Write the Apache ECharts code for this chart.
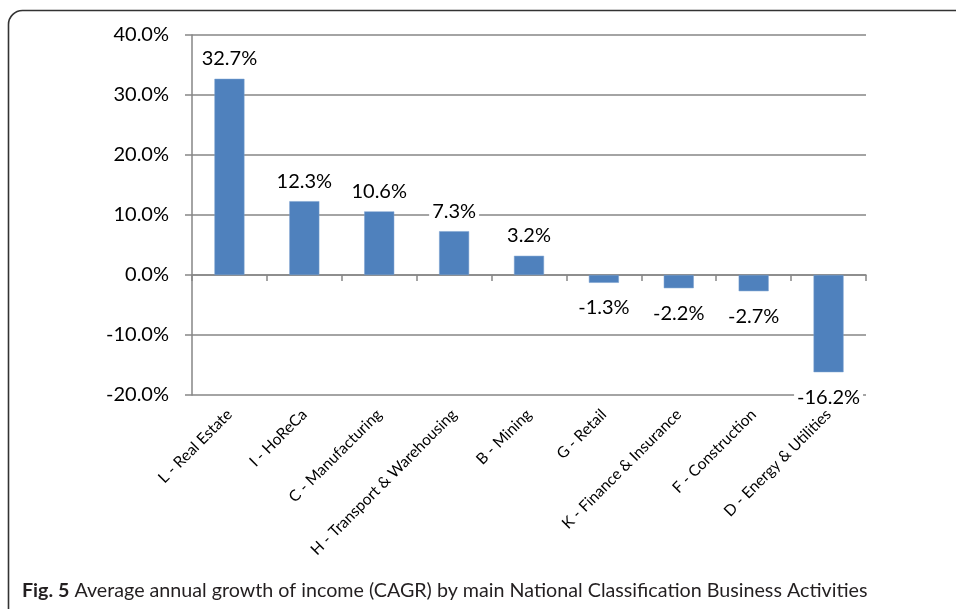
<!DOCTYPE html>
<html><head><meta charset="utf-8">
<script src="https://cdn.jsdelivr.net/npm/echarts@6/dist/echarts.min.js"></script>
<style>html,body{margin:0;padding:0;background:#fff}#c{width:956px;height:609px}</style>
</head><body><div id="c"></div>
<script>
const categories = ["L - Real Estate","I - HoReCa","C - Manufacturing","H - Transport & Warehousing","B - Mining","G - Retail","K - Finance & Insurance","F - Construction","D - Energy & Utilities"];
const values = [32.7, 12.3, 10.6, 7.3, 3.2, -1.3, -2.2, -2.7, -16.2];
const yTicks = {min: -20, max: 40, interval: 10};
const captionBold = "Fig. 5";
const captionText = " Average annual growth of income (CAGR) by main National Classification Business Activities";

const FONT = "Lato";
const chart = echarts.init(document.getElementById('c'), null, {renderer: 'canvas'});
const labelBase = {
  show: true, fontFamily: FONT, fontSize: 20, color: '#000',
  formatter: p => p.value.toFixed(1) + '%',
  backgroundColor: '#fff', padding: [1, 3]
};
chart.setOption({
  animation: false,
  backgroundColor: '#fff',
  grid: {left: 192, right: 90, top: 35, bottom: 214, containLabel: false},
  xAxis: [{
    type: 'category', data: categories, position: 'bottom',
    axisLine: {show: false, onZero: false}, axisTick: {show: false},
    axisLabel: {rotate: 45, interval: 0, fontFamily: FONT, fontSize: 15.5, color: '#000', margin: 17}
  }, {
    type: 'category', data: categories, position: 'top',
    axisLine: {show: true, onZero: true, lineStyle: {color: '#868686', width: 1.5}},
    axisTick: {show: true, inside: true, length: 6, interval: 0, lineStyle: {color: '#868686', width: 1.5}},
    axisLabel: {show: false}
  }],
  yAxis: {
    type: 'value', min: yTicks.min, max: yTicks.max, interval: yTicks.interval,
    axisLine: {show: true, lineStyle: {color: '#868686', width: 1.5}},
    axisTick: {show: true, length: 7, lineStyle: {color: '#868686', width: 1.5}},
    splitLine: {show: true, lineStyle: {color: '#868686', width: 1.5}},
    axisLabel: {formatter: v => v.toFixed(1) + '%', fontFamily: FONT, fontSize: 20, color: '#000', margin: 23}
  },
  series: [{
    type: 'bar', barWidth: 30, z: 3,
    data: values.map(v => v < 0
      ? {value: v, label: Object.assign({}, labelBase, {position: 'bottom', distance: 14})}
      : {value: v, label: Object.assign({}, labelBase, {position: 'top', distance: 9})}),
    itemStyle: {color: '#4F81BD', borderColor: '#7AA0D0', borderWidth: 0.5}
  }],
  graphic: [{
    type: 'rect', shape: {x: 8.5, y: 10.5, width: 1000, height: 700, r: 14},
    style: {fill: null, stroke: '#333', lineWidth: 1.6}, silent: true
  }, {
    type: 'text', left: 22, top: 581,
    style: {
      text: '{b|' + captionBold + '}{n|' + captionText + '}',
      rich: {
        b: {fontFamily: FONT, fontWeight: 'bold', fontSize: 19.7, fill: '#231f20'},
        n: {fontFamily: FONT, fontSize: 19.7, fill: '#231f20'}
      }
    }
  }]
});
</script></body></html>
